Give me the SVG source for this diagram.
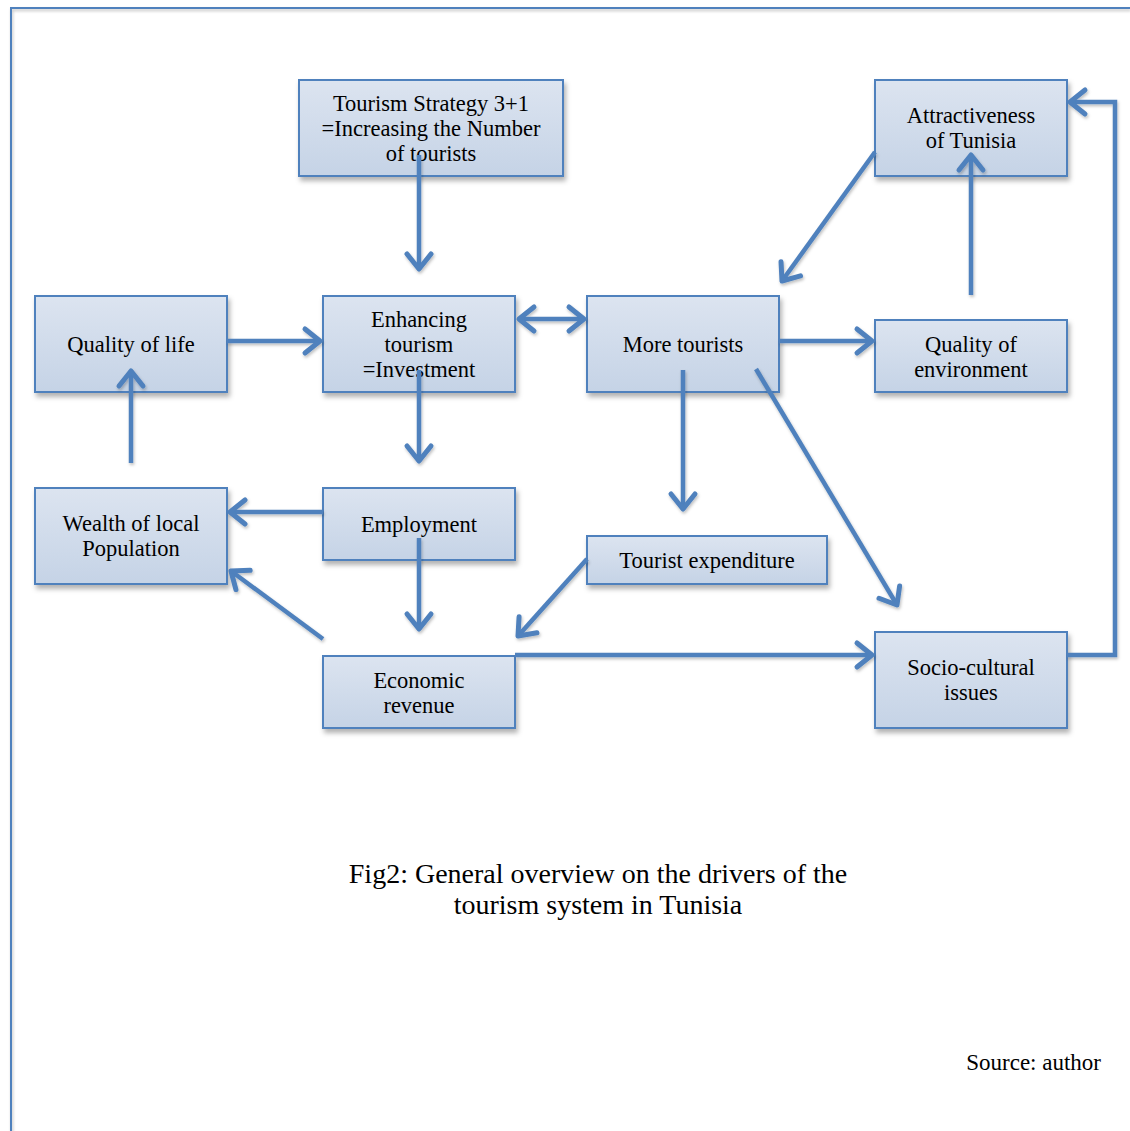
<svg xmlns="http://www.w3.org/2000/svg" width="1130" height="1131" viewBox="0 0 1130 1131">
<defs>
<linearGradient id="g" x1="0" y1="0" x2="0" y2="1">
<stop offset="0" stop-color="#dce4f0"/>
<stop offset="1" stop-color="#c5d3e6"/>
</linearGradient>
<filter id="sh" x="-10%" y="-10%" width="130%" height="140%">
<feDropShadow dx="2" dy="4" stdDeviation="2.5" flood-color="#000" flood-opacity="0.3"/>
</filter>
<filter id="ls" x="-10%" y="-10%" width="130%" height="130%">
<feDropShadow dx="1" dy="2" stdDeviation="1.5" flood-color="#000" flood-opacity="0.25"/>
</filter>
<marker id="a" markerWidth="24" markerHeight="30" refX="19" refY="15" orient="auto-start-reverse" markerUnits="userSpaceOnUse" overflow="visible">
<path d="M4,3 L19,15 L4,27" fill="none" stroke="#4f81bd" stroke-width="5" stroke-linecap="round" stroke-linejoin="round"/>
</marker>
</defs>
<style>
.box{fill:url(#g);stroke:#4f81bd;stroke-width:2;filter:url(#sh)}
.t{font-family:"Liberation Serif","Times New Roman",serif;font-size:22.5px;fill:#000;text-anchor:middle}
.c{fill:none;stroke:#4f81bd;stroke-width:4.5;marker-end:url(#a)}
.cap{font-family:"Liberation Serif","Times New Roman",serif;font-size:28px;fill:#000;text-anchor:middle}
</style>
<rect width="1130" height="1131" fill="#fff"/>
<g id="frame" filter="url(#ls)">
<path d="M11,1131 L11,8 L1130,8" fill="none" stroke="#4f81bd" stroke-width="2"/>
</g>
<g id="n_strategy"><rect class="box" x="299" y="80" width="264" height="96"/>
<text class="t" x="431" y="111">Tourism Strategy 3+1</text><text class="t" x="431" y="136">=Increasing the Number</text><text class="t" x="431" y="161">of tourists</text></g>
<g id="n_attract"><rect class="box" x="875" y="80" width="192" height="96"/>
<text class="t" x="971" y="123">Attractiveness</text><text class="t" x="971" y="148">of Tunisia</text></g>
<g id="n_qol"><rect class="box" x="35" y="296" width="192" height="96"/>
<text class="t" x="131" y="352">Quality of life</text></g>
<g id="n_enh"><rect class="box" x="323" y="296" width="192" height="96"/>
<text class="t" x="419" y="327">Enhancing</text><text class="t" x="419" y="352">tourism</text><text class="t" x="419" y="377">=Investment</text></g>
<g id="n_more"><rect class="box" x="587" y="296" width="192" height="96"/>
<text class="t" x="683" y="352">More tourists</text></g>
<g id="n_env"><rect class="box" x="875" y="320" width="192" height="72"/>
<text class="t" x="971" y="352">Quality of</text><text class="t" x="971" y="377">environment</text></g>
<g id="n_wealth"><rect class="box" x="35" y="488" width="192" height="96"/>
<text class="t" x="131" y="531">Wealth of local</text><text class="t" x="131" y="556">Population</text></g>
<g id="n_emp"><rect class="box" x="323" y="488" width="192" height="72"/>
<text class="t" x="419" y="532">Employment</text></g>
<g id="n_exp"><rect class="box" x="587" y="536" width="240" height="48"/>
<text class="t" x="707" y="568">Tourist expenditure</text></g>
<g id="n_rev"><rect class="box" x="323" y="656" width="192" height="72"/>
<text class="t" x="419" y="688">Economic</text><text class="t" x="419" y="713">revenue</text></g>
<g id="n_socio"><rect class="box" x="875" y="632" width="192" height="96"/>
<text class="t" x="971" y="675">Socio-cultural</text><text class="t" x="971" y="700">issues</text></g>
<g id="connectors" filter="url(#ls)">
<path class="c" d="M419,155 L419,269"/>
<path class="c" d="M227,341 L320,341"/>
<path class="c" d="M519,319 L584,319" style="marker-start:url(#a)"/>
<path class="c" d="M419,370 L419,461"/>
<path class="c" d="M779,341 L872,341"/>
<path class="c" d="M683,370 L683,509"/>
<path class="c" d="M756,369 L897,605"/>
<path class="c" d="M875,152 L782,281"/>
<path class="c" d="M971,295 L971,155"/>
<path class="c" d="M131,463 L131,371"/>
<path class="c" d="M323,512 L230,512"/>
<path class="c" d="M419,538 L419,629"/>
<path class="c" d="M323,639 L231,571"/>
<path class="c" d="M587,559 L518,636"/>
<path class="c" d="M515,655 L872,655"/>
<path class="c" d="M1067,655 L1115,655 L1115,102 L1070,102"/>
</g>
<text class="cap" x="598" y="883">Fig2: General overview on the drivers of the</text>
<text class="cap" x="598" y="914">tourism system in Tunisia</text>
<text class="t" x="1101" y="1070" style="text-anchor:end;font-size:23px">Source: author</text>
</svg>
